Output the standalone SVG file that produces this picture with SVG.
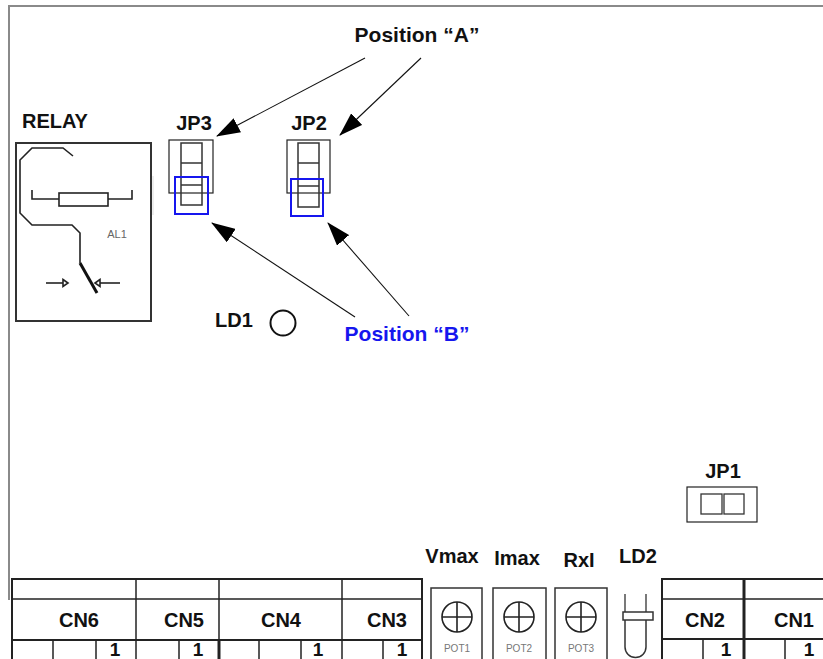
<svg xmlns="http://www.w3.org/2000/svg" width="823" height="659" viewBox="0 0 823 659">
<defs>
<style>
.lbl{font-family:"Liberation Sans",Arial,sans-serif;font-weight:bold;font-size:20px;fill:#111;text-anchor:middle}
.one{font-size:19px}
.pos{font-size:21px}
.blue{fill:#1616ee}
.small{font-family:"Liberation Sans",Arial,sans-serif;font-size:10px;fill:#777;text-anchor:middle}
.ln{fill:none;stroke:#222;stroke-width:1.6}
.thin{fill:none;stroke:#222;stroke-width:1.2}
.arrow{fill:none;stroke:#111;stroke-width:1.1;marker-end:url(#ah)}
</style>
<marker id="ah" markerUnits="userSpaceOnUse" markerWidth="24" markerHeight="16" refX="23" refY="8" orient="auto">
<path d="M0,0 L24,8 L0,16 z" fill="#000"/>
</marker>
</defs>
<rect width="823" height="659" fill="#fff"/>
<g id="frame">
<line x1="8" y1="6" x2="823" y2="6" stroke="#8a8a8a" stroke-width="2"/>
<line x1="9" y1="5" x2="9" y2="600" stroke="#8a8a8a" stroke-width="2"/>
<line x1="153" y1="176" x2="153" y2="215" stroke="#ddd" stroke-width="1"/>
</g>
<g id="relay">
<text class="lbl" x="55" y="128">RELAY</text>
<rect x="16" y="143" width="135" height="178" fill="none" stroke="#333" stroke-width="2"/>
<polyline class="ln" points="73,156 63,148 32,148 20,160 20,213 32,225 72,225 80,233 80,263"/>
<line x1="80" y1="263" x2="97" y2="293" stroke="#111" stroke-width="3"/>
<polyline class="ln" points="32,190 32,199 132,199 132,190"/>
<rect x="59" y="193" width="49" height="13" fill="#fff" stroke="#222" stroke-width="1.6"/>
<text class="small" x="117" y="238" style="font-size:11px;fill:#666">AL1</text>
<line class="ln" x1="46" y1="283" x2="63" y2="283"/>
<path d="M63,279.5 L68,283 L63,286.5 z" class="ln"/>
<line class="ln" x1="100" y1="283" x2="120" y2="283"/>
<path d="M100,279.5 L95,283 L100,286.5 z" class="ln"/>
</g>
<g id="jp3">
<text class="lbl" x="194" y="130">JP3</text>
<rect x="169" y="140" width="44" height="53" class="thin"/>
<rect x="181" y="143" width="21" height="62" fill="none" stroke="#333" stroke-width="1.5"/>
<line x1="181" y1="163" x2="202" y2="163" stroke="#333" stroke-width="1.5"/>
<line x1="181" y1="185" x2="202" y2="185" stroke="#333" stroke-width="1.5"/>
<rect x="175" y="177" width="33" height="37" fill="none" stroke="#1616ee" stroke-width="2"/>
</g>
<g id="jp2">
<text class="lbl" x="309" y="130">JP2</text>
<rect x="287" y="140" width="43" height="53" class="thin"/>
<rect x="298" y="143" width="21" height="64" fill="none" stroke="#333" stroke-width="1.5"/>
<line x1="298" y1="163" x2="319" y2="163" stroke="#333" stroke-width="1.5"/>
<line x1="298" y1="186" x2="319" y2="186" stroke="#333" stroke-width="1.5"/>
<rect x="291" y="179" width="32" height="37" fill="none" stroke="#1616ee" stroke-width="2"/>
</g>
<g id="posA">
<text class="lbl pos" x="417" y="42">Position “A”</text>
</g>
<g id="posB">
<text class="lbl pos blue" x="407" y="341">Position “B”</text>
</g>
<g id="ld1">
<text class="lbl" x="234" y="327">LD1</text>
<circle cx="283" cy="323" r="12.5" fill="none" stroke="#111" stroke-width="2"/>
</g>
<g id="jp1">
<text class="lbl" x="723" y="478">JP1</text>
<rect x="687" y="487" width="70" height="35" class="thin" stroke-width="1.3"/>
<rect x="701" y="494" width="21" height="20" fill="none" stroke="#333" stroke-width="1.3"/>
<rect x="724" y="494" width="20" height="20" fill="none" stroke="#333" stroke-width="1.3"/>
</g>
<g id="connectors">
<line class="arrow" x1="365" y1="58" x2="217" y2="136"/>
<line class="arrow" x1="421" y1="58" x2="340" y2="135"/>
<line class="arrow" x1="355" y1="317" x2="212" y2="223"/>
<line class="arrow" x1="409" y1="316" x2="328" y2="223"/>
</g>
<g id="cn-left">
<polyline points="12,659 12,579 422,579 422,659" fill="none" stroke="#222" stroke-width="2"/>
<line x1="12" y1="599" x2="422" y2="599" stroke="#222" stroke-width="1.5"/>
<line x1="12" y1="640" x2="422" y2="640" stroke="#222" stroke-width="2"/>
<line x1="136" y1="579" x2="136" y2="659" stroke="#222" stroke-width="1.5"/>
<line x1="219" y1="579" x2="219" y2="640" stroke="#222" stroke-width="1.5"/>
<line x1="219" y1="640" x2="219" y2="659" stroke="#222" stroke-width="3"/>
<line x1="342" y1="579" x2="342" y2="659" stroke="#222" stroke-width="1.5"/>
<line x1="53" y1="640" x2="53" y2="659" stroke="#222" stroke-width="1.5"/>
<line x1="96" y1="640" x2="96" y2="659" stroke="#222" stroke-width="1.5"/>
<line x1="179" y1="640" x2="179" y2="659" stroke="#222" stroke-width="1.5"/>
<line x1="259" y1="640" x2="259" y2="659" stroke="#222" stroke-width="1.5"/>
<line x1="301" y1="640" x2="301" y2="659" stroke="#222" stroke-width="1.5"/>
<line x1="383" y1="640" x2="383" y2="659" stroke="#222" stroke-width="1.5"/>
<text class="lbl" x="79" y="627">CN6</text>
<text class="lbl" x="184" y="627">CN5</text>
<text class="lbl" x="281" y="627">CN4</text>
<text class="lbl" x="387" y="627">CN3</text>
<text class="lbl one" x="115" y="656">1</text>
<text class="lbl one" x="198" y="656">1</text>
<text class="lbl one" x="318" y="656">1</text>
<text class="lbl one" x="402" y="656">1</text>
</g>
<g id="pots">
<text class="lbl" x="452" y="563">Vmax</text>
<text class="lbl" x="517" y="565">Imax</text>
<text class="lbl" x="579" y="567">RxI</text>
<rect x="431" y="588" width="51" height="75" fill="none" stroke="#333" stroke-width="1.5"/>
<rect x="493" y="588" width="53" height="75" fill="none" stroke="#333" stroke-width="1.5"/>
<rect x="555" y="588" width="52" height="75" fill="none" stroke="#333" stroke-width="1.5"/>
<circle cx="457" cy="617" r="15" class="ln" stroke-width="1.3"/>
<path d="M442,617 H472 M457,602 V632" class="ln" stroke-width="1.3"/>
<circle cx="519" cy="617" r="15" class="ln" stroke-width="1.3"/>
<path d="M504,617 H534 M519,602 V632" class="ln" stroke-width="1.3"/>
<circle cx="581" cy="617" r="15" class="ln" stroke-width="1.3"/>
<path d="M566,617 H596 M581,602 V632" class="ln" stroke-width="1.3"/>
<text class="small" x="457" y="652">POT1</text>
<text class="small" x="519" y="652">POT2</text>
<text class="small" x="581" y="652">POT3</text>
</g>
<g id="ld2">
<text class="lbl" x="638" y="563">LD2</text>
<path d="M625,594 V612 M646,594 V612" class="thin" stroke="#333" stroke-width="1.5"/>
<rect x="623" y="612" width="30" height="8" fill="#fff" stroke="#333" stroke-width="1.5"/>
<path d="M625,620 V647 A10.5,10.5 0 0 0 646,647 V620" fill="none" stroke="#333" stroke-width="1.5"/>
</g>
<g id="cn-right">
<polyline points="662,659 662,579 823,579" fill="none" stroke="#222" stroke-width="2"/>
<line x1="662" y1="599" x2="823" y2="599" stroke="#222" stroke-width="1.5"/>
<line x1="662" y1="639" x2="823" y2="639" stroke="#222" stroke-width="2"/>
<line x1="744" y1="579" x2="744" y2="659" stroke="#222" stroke-width="3"/>
<line x1="703" y1="639" x2="703" y2="659" stroke="#222" stroke-width="1.5"/>
<line x1="785" y1="639" x2="785" y2="659" stroke="#222" stroke-width="1.5"/>
<text class="lbl" x="705" y="627">CN2</text>
<text class="lbl" x="794" y="627">CN1</text>
<text class="lbl one" x="726" y="656">1</text>
<text class="lbl one" x="809" y="656">1</text>
</g>
</svg>
